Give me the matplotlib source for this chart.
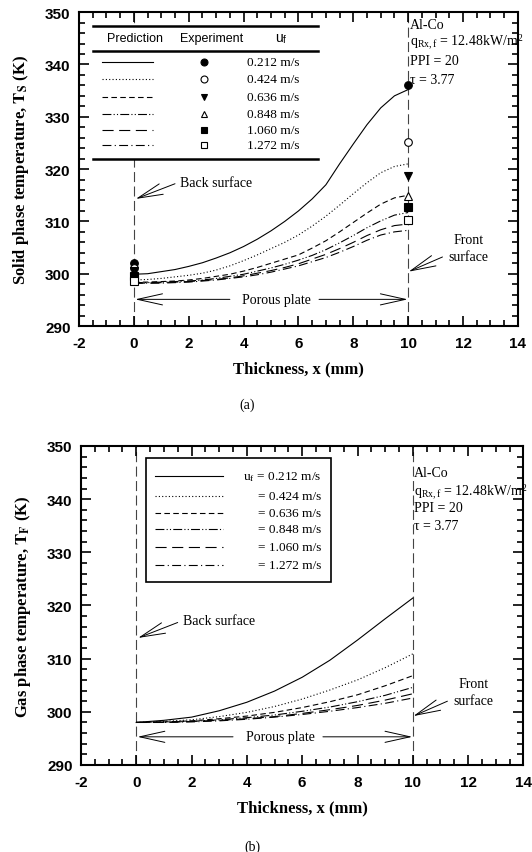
import matplotlib
matplotlib.use('Agg')
import matplotlib.pyplot as plt
from matplotlib.patches import Rectangle
from matplotlib.ticker import MultipleLocator

plt.rcParams['axes.unicode_minus'] = False
plt.rcParams['mathtext.fontset'] = 'stix'

SERIF = 'Liberation Serif'
SANS = 'Liberation Sans'

speeds = ['0.212', '0.424', '0.636', '0.848', '1.060', '1.272']

# (a) solid phase temperature, prediction (thickness in mm)
x_solid = [0, 0.5, 1, 1.5, 2, 2.5, 3, 3.5, 4, 4.5, 5, 5.5, 6, 6.5, 7, 7.5, 8, 8.5, 9, 9.5, 10]
ts_0212 = [299.9, 300.0, 300.4, 300.8, 301.4, 302.1, 303.0, 304.0, 305.2, 306.6, 308.2,
           310.0, 312.0, 314.3, 317.0, 321.0, 324.8, 328.5, 331.7, 334.0, 335.2]
ts_0424 = [298.8, 298.9, 299.1, 299.4, 299.7, 300.1, 300.7, 301.5, 302.5, 303.6, 304.8,
           306.0, 307.4, 309.1, 311.0, 313.1, 315.3, 317.4, 319.3, 320.5, 321.0]
ts_0636 = [298.4, 298.4, 298.5, 298.6, 298.8, 299.1, 299.5, 299.9, 300.5, 301.2, 302.0,
           302.8, 303.6, 304.9, 306.3, 308.0, 309.8, 311.6, 313.3, 314.5, 315.0]
ts_0848 = [298.3, 298.3, 298.4, 298.5, 298.6, 298.8, 299.1, 299.5, 299.9, 300.5, 301.1,
           301.8, 302.6, 303.5, 304.6, 305.9, 307.3, 308.8, 310.1, 311.2, 311.7]
ts_1060 = [298.2, 298.2, 298.3, 298.4, 298.5, 298.7, 298.9, 299.2, 299.6, 300.1, 300.6,
           301.2, 301.9, 302.8, 303.7, 304.8, 306.0, 307.3, 308.4, 309.2, 309.5]
ts_1272 = [298.2, 298.2, 298.2, 298.3, 298.4, 298.6, 298.8, 299.1, 299.4, 299.8, 300.3,
           300.9, 301.5, 302.3, 303.1, 304.1, 305.2, 306.4, 307.4, 308.0, 308.3]

# (a) experiment, at back and front surface
exp_x = [0, 10]
exp_0212 = [302.0, 336.0]
exp_0424 = [301.0, 325.2]
exp_0636 = [300.5, 318.7]
exp_0848 = [300.0, 314.9]
exp_1060 = [299.6, 312.8]
exp_1272 = [298.6, 310.3]

# (b) gas phase temperature, prediction
x_gas = [0, 1, 2, 3, 4, 5, 6, 7, 8, 9, 10]
tf_0212 = [298.0, 298.4, 299.0, 300.2, 301.8, 303.9, 306.5, 309.7, 313.5, 317.5, 321.4]
tf_0424 = [298.0, 298.2, 298.5, 299.1, 299.9, 301.0, 302.4, 304.1, 306.0, 308.3, 310.9]
tf_0636 = [298.0, 298.1, 298.3, 298.7, 299.2, 299.9, 300.8, 301.9, 303.2, 304.9, 306.8]
tf_0848 = [298.0, 298.1, 298.2, 298.5, 298.9, 299.4, 300.1, 300.9, 301.9, 303.1, 304.6]
tf_1060 = [298.0, 298.0, 298.2, 298.4, 298.7, 299.1, 299.7, 300.4, 301.2, 302.2, 303.4]
tf_1272 = [298.0, 298.0, 298.1, 298.3, 298.6, 299.0, 299.5, 300.1, 300.8, 301.6, 302.6]

solid = [ts_0212, ts_0424, ts_0636, ts_0848, ts_1060, ts_1272]
gas = [tf_0212, tf_0424, tf_0636, tf_0848, tf_1060, tf_1272]
exps = [exp_0212, exp_0424, exp_0636, exp_0848, exp_1060, exp_1272]

styles = ['-', (0, (1, 2)), (0, (5, 3)), (0, (8, 2, 1, 2, 1, 2)), (0, (10, 5)), (0, (8, 3, 1, 3))]
markers = [('o', 'k'), ('o', 'w'), ('v', 'k'), ('^', 'w'), ('s', 'k'), ('s', 'w')]


def frame(ax, ylabel):
    ax.set_xlim(-2, 14)
    ax.set_ylim(290, 350)
    ax.xaxis.set_major_locator(MultipleLocator(2))
    ax.xaxis.set_minor_locator(MultipleLocator(0.5))
    ax.yaxis.set_major_locator(MultipleLocator(10))
    ax.yaxis.set_minor_locator(MultipleLocator(2))
    ax.tick_params(which='both', direction='in', top=True, right=True, width=1.2)
    ax.tick_params(which='major', length=7)
    ax.tick_params(which='minor', length=4)
    ax.tick_params(axis='x', pad=7)
    ax.tick_params(axis='y', pad=6)
    for lab in ax.get_xticklabels() + ax.get_yticklabels():
        lab.set_fontfamily(SANS)
        lab.set_fontweight('bold')
        lab.set_fontsize(11)
    for s in ax.spines.values():
        s.set_linewidth(1.5)
    ax.set_xlabel('Thickness, x (mm)', fontfamily=SERIF, fontweight='bold', fontsize=12, labelpad=8)
    ax.set_ylabel(ylabel, fontfamily=SERIF, fontweight='bold', fontsize=12, labelpad=10)
    # back / front surface
    for xv in [0, 10]:
        ax.axvline(xv, color='#444444', lw=0.8, ls=(0, (9, 4)), zorder=1)


def notes(ax, al_y, back_y, front_y, porous_y):
    lines = ['Al-Co', r'q$_\mathregular{Rx,f}$ = 12.48kW/m$^\mathregular{2}$', 'PPI = 20', 'τ = 3.77']
    for txt, yy in zip(lines, al_y):
        ax.text(10.05, yy, txt, fontfamily=SERIF, fontsize=10, va='center', ha='left')
    arrow = dict(arrowstyle='->,head_length=0.9,head_width=0.2', lw=0.7, color='k',
                 mutation_scale=20, shrinkA=0, shrinkB=0)
    ax.text(1.68, back_y, 'Back surface', fontfamily=SERIF, fontsize=10, va='center')
    ax.annotate('', xy=(0.07, back_y - 3.2), xytext=(1.5, back_y - 0.3), arrowprops=arrow)
    ax.text(12.2, front_y + 1.6, 'Front', fontfamily=SERIF, fontsize=10, ha='center', va='center')
    ax.text(12.2, front_y - 1.6, 'surface', fontfamily=SERIF, fontsize=10, ha='center', va='center')
    ax.annotate('', xy=(10.02, front_y - 4.5), xytext=(11.25, front_y - 1.7), arrowprops=arrow)
    ax.text(5.2, porous_y, 'Porous plate', fontfamily=SERIF, fontsize=10, ha='center', va='center')
    ax.annotate('', xy=(0.05, porous_y), xytext=(3.5, porous_y), arrowprops=arrow)
    ax.annotate('', xy=(9.98, porous_y), xytext=(6.75, porous_y), arrowprops=arrow)


fig = plt.figure(figsize=(5.32, 8.53), dpi=100)
ax1 = fig.add_axes([0.1485, 0.6166, 0.825, 0.368])
ax2 = fig.add_axes([0.152, 0.102, 0.832, 0.374])

# ---- (a) solid phase
frame(ax1, r'Solid phase temperature, $\mathbf{T_S}$ (K)')
for ts, ls in zip(solid, styles):
    ax1.plot(x_solid, ts, color='k', lw=0.8, ls=ls, zorder=3)
for ex, (m, fc) in zip(exps, markers):
    ax1.plot(exp_x, ex, ls='none', marker=m, mfc=fc, mec='k', mew=0.8, ms=5.5, zorder=4)

# table style legend
ax1.add_patch(Rectangle((-1.5, 321.9), 8.22, 25.4, facecolor='white', edgecolor='none', zorder=5))
for yy in [347.3, 342.5, 321.9]:
    ax1.plot([-1.5, 6.72], [yy, yy], color='k', lw=1.8, zorder=6)
ax1.text(0.04, 345.1, 'Prediction', fontfamily=SANS, fontsize=9, ha='center', va='center', zorder=6)
ax1.text(2.85, 345.1, 'Experiment', fontfamily=SANS, fontsize=9, ha='center', va='center', zorder=6)
ax1.text(5.36, 345.1, r'u$_\mathregular{f}$', fontfamily=SANS, fontsize=10, ha='center', va='center', zorder=6)
rows_a = [340.4, 337.2, 333.7, 330.5, 327.4, 324.6]
for yy, ls, (m, fc), sp in zip(rows_a, styles, markers, speeds):
    ax1.plot([-1.17, 0.69], [yy, yy], color='k', lw=0.8, ls=ls, zorder=6)
    ax1.plot([2.55], [yy], ls='none', marker=m, mfc=fc, mec='k', mew=0.8, ms=5, zorder=6)
    ax1.text(4.12, yy, sp + ' m/s', fontfamily=SERIF, fontsize=9.5, va='center', zorder=6)

notes(ax1, [347.6, 344.4, 340.7, 337.2], 317.5, 304.9, 295.1)

# ---- (b) gas phase
frame(ax2, r'Gas phase temperature, $\mathbf{T_F}$ (K)')
for tf, ls in zip(gas, styles):
    ax2.plot(x_gas, tf, color='k', lw=0.8, ls=ls, zorder=3)

ax2.add_patch(Rectangle((0.36, 324.4), 6.7, 23.3, facecolor='white', edgecolor='k', lw=1.2, zorder=5))
rows_b = [344.3, 340.5, 337.4, 334.3, 331.0, 327.7]
for i, (yy, ls, sp) in enumerate(zip(rows_b, styles, speeds)):
    ax2.plot([0.68, 3.12], [yy, yy], color='k', lw=0.8, ls=ls, zorder=6)
    lab = (r'u$_\mathregular{f}$ = ' if i == 0 else '= ') + sp + ' m/s'
    ax2.text(6.7, yy, lab, fontfamily=SERIF, fontsize=9.5, ha='right', va='center', zorder=6)

notes(ax2, [345.1, 341.5, 338.5, 335.0], 317.1, 303.7, 295.3)

fig.text(0.464, 1 - 405 / 853, '(a)', fontfamily=SERIF, fontsize=10, ha='center', va='center')
fig.text(0.474, 1 - 847 / 853, '(b)', fontfamily=SERIF, fontsize=10, ha='center', va='center')

fig.savefig('out.png', dpi=100)
